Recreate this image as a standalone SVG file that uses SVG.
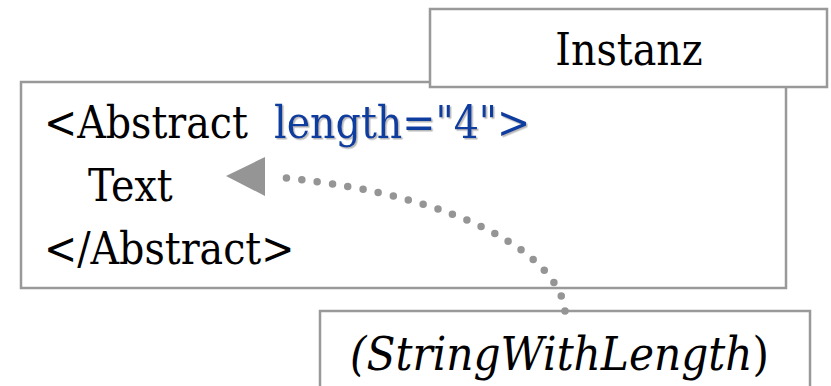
<svg xmlns="http://www.w3.org/2000/svg" width="831" height="386" viewBox="0 0 831 386">
  <style>
    .box { fill: #ffffff; stroke: #999999; stroke-width: 2.5; }
    .t { font-family: "DejaVu Serif Condensed", "DejaVu Serif", "Liberation Serif", serif; font-stretch: condensed; font-size: 44px; fill: #000000; }
    .attr { fill: #0f3d9e; }
    .it { font-style: italic; }
    .conn { fill: none; stroke: #959595; stroke-width: 7.5; stroke-linecap: round; stroke-dasharray: 0 15.5; }
  </style>
  <defs>
    <filter id="shadow" x="-5%" y="-20%" width="115%" height="150%">
      <feDropShadow dx="1.5" dy="1.5" stdDeviation="0.6" flood-color="#9a9a9a" flood-opacity="0.7"/>
    </filter>
  </defs>
  <rect width="831" height="386" fill="#ffffff"/>

  <g id="instance-box">
    <rect class="box" x="21" y="82" width="765" height="206"/>
    <text class="t" x="44" y="138">&lt;Abstract <tspan class="attr" x="274" filter="url(#shadow)">length="4"&gt;</tspan></text>
    <text class="t" x="88" y="201">Text</text>
    <text class="t" x="44" y="264">&lt;/Abstract&gt;</text>
  </g>

  <g id="instanz-label">
    <rect class="box" x="430" y="9" width="397" height="78"/>
    <text class="t" x="629" y="65" text-anchor="middle">Instanz</text>
  </g>

  <g id="type-box">
    <rect class="box" x="320" y="311" width="490" height="90"/>
    <text class="t" x="350" y="370" style="font-size:47px"><tspan class="it">(StringWithLength</tspan>)</text>
  </g>

  <g id="connectors">
    <path class="conn" d="M565,311 C560,260 470,195 276,177"/>
    <polygon points="226,176 265,157 265,196" fill="#959595"/>
  </g>
</svg>
